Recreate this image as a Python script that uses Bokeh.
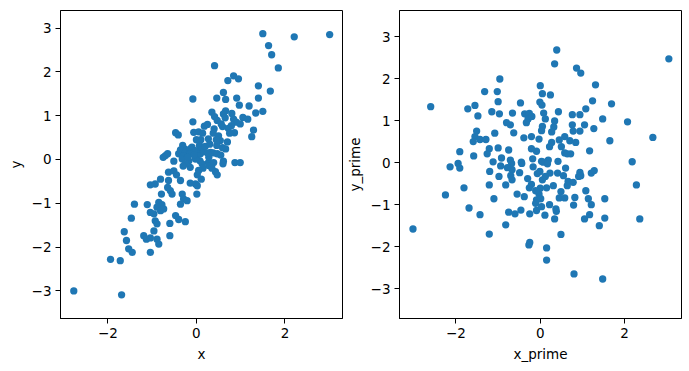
from bokeh.plotting import figure
from bokeh.layouts import row
from bokeh.models import FixedTicker, Range1d
from bokeh.embed import file_html
from bokeh.resources import INLINE

# ---- left panel data (x, y) ----
x = [1.50, 2.21, 3.01, 1.63, 1.70, 1.85, 0.41, 0.84, 0.71, 0.95,
     1.40, 1.67, 0.61, 0.66, 0.46, 0.91, 0.97, 1.40, 1.19, 0.66,
     0.35, 0.41, 1.50, 1.34, 0.61, 1.05, 1.16, 0.84, 0.90, 0.79,
     0.99, 0.18, 0.25, 0.59, 0.72, 1.29, 1.25, 0.38, 0.50, 0.86,
     0.27, 0.54, 0.07, 0.12, 0.46, 0.59, 0.38, 0.61, 0.87, 0.99,
     0.27, 0.08, -0.08, -0.08, -0.47, -0.41, -0.06, 0.05, 0.14, -0.70,
     -0.65, -0.51, -0.31, -0.27, -0.40, -0.10, 0.47, 0.56, 0.66, -0.36,
     -0.75, -0.25, -0.14, -0.02, 0.09, 0.16, 0.28, -0.29, -0.14, 0.02,
     0.32, 0.47, -0.32, -0.17, -0.02, 0.13, 0.28, 0.39, -0.14, -0.25,
     -0.63, -0.51, 0.43, 0.47, 0.02, 0.11, -0.36, -0.14, -0.02, -0.81,
     -1.04, -0.93, -0.63, 0.02, -0.65, -0.59, -0.55, -0.79, -0.32, -0.29,
     0.01, -1.40, -1.11, -0.85, -0.78, -0.89, -0.36, -0.21, -1.04, -0.96,
     -0.81, -0.74, -0.47, -0.40, -0.25, -1.47, -0.93, -0.89, -0.60, -0.96,
     -1.63, -1.19, -1.13, -1.04, -0.89, -0.85, -0.60, -1.58, -1.53, -1.45,
     -1.04, -1.94, -1.72, -2.77, -1.69,
     0.10, 0.20, 0.30, 0.00, -0.05, 0.15, 0.35, 0.55, 0.70, 0.40,
     0.65, 0.75, -0.20, -0.30, 0.05, 0.25, 0.45, 0.80, -0.45, 0.60]
y = [2.87, 2.80, 2.85, 2.60, 2.39, 2.09, 2.14, 1.91, 1.80, 1.84,
     1.68, 1.56, 1.53, 1.37, 1.40, 1.40, 1.24, 1.40, 1.22, 1.11,
     1.08, 0.98, 1.10, 1.06, 1.04, 0.96, 0.92, 0.92, 0.85, 0.77,
     0.81, 0.76, 0.80, 0.75, 0.71, 0.67, 0.52, 0.60, 0.54, 0.61,
     0.47, 0.43, 0.32, 0.22, 0.32, 0.27, 0.15, -0.04, -0.07, -0.07,
     -0.07, -0.03, 1.38, 0.86, 0.61, 0.56, 0.62, 0.63, 0.60, 0.09,
     0.13, -0.04, 0.32, 0.24, 0.13, 0.28, 0.89, 0.81, 0.24, 0.22,
     0.05, 0.16, 0.24, 0.20, 0.13, 0.18, 0.05, 0.09, 0.13, 0.09,
     0.16, 0.13, 0.01, -0.03, 0.01, -0.10, -0.14, -0.07, -0.18, -0.10,
     -0.29, -0.26, -0.28, -0.35, -0.35, -0.45, -0.48, -0.54, -0.56, -0.45,
     -0.58, -0.56, -0.48, -0.60, -0.64, -0.71, -0.79, -0.79, -0.79, -0.90,
     -0.79, -1.02, -1.03, -0.98, -1.03, -1.09, -1.02, -0.94, -1.21, -1.24,
     -1.17, -1.13, -1.28, -1.37, -1.42, -1.34, -1.40, -1.47, -1.46, -1.63,
     -1.65, -1.74, -1.82, -1.79, -1.82, -1.93, -1.74, -1.85, -2.04, -2.12,
     -2.12, -2.28, -2.31, -3.00, -3.09,
     0.45, 0.30, 0.35, 0.45, 0.10, -0.20, -0.20, 0.10, 0.40, 0.70,
     0.95, 0.60, 0.05, -0.15, -0.25, 0.15, 0.45, 1.05, -0.35, -0.10]

# ---- right panel data (x_prime, y_prime) ----
x_prime = [0.34, 0.39, 0.86, 0.96, -0.96, 1.31, 0.00, -1.32, -1.02, 0.05,
           0.24, -1.00, -0.47, -0.01, 0.04, 1.24, 1.69, -1.72, -1.55, 1.08,
           -1.15, -0.97, -0.66, -0.37, -0.26, 0.08, 0.43, 0.76, 0.94, -1.48,
           -0.29, 0.12, 1.48, 2.07, -0.80, -0.71, -0.33, 0.34, 0.76, 1.05,
           0.05, 0.32, 1.27, -1.51, -1.08, -0.63, 0.03, 0.27, 0.78, 0.94,
           -1.55, -1.59, -1.43, -1.29, -0.39, -0.21, -0.03, 0.27, 0.45, 0.58,
           0.70, 0.84, 0.50, 1.65, -1.91, -1.21, -1.26, -1.00, -0.75, -0.09,
           0.58, 1.17, -1.58, -0.92, -1.12, -0.71, -0.45, -0.18, 0.03, 0.19,
           0.42, -1.95, 2.18, -2.14, -1.91, -0.94, -0.68, -0.17, 0.60, -1.20,
           -0.67, -0.01, 0.23, 0.41, 0.94, 0.91, 1.21, 1.28, -0.98, -0.70,
           -0.67, 0.05, 0.66, 0.78, 0.64, -1.21, -0.82, -0.21, -0.26, 0.00,
           0.15, 2.28, -1.81, -2.25, -0.55, -0.38, -0.03, 0.49, 1.08, -1.10,
           -0.09, 0.01, 0.45, 0.58, 0.82, 1.14, 1.53, -0.11, 0.79, 1.21,
           -1.69, -1.43, -0.75, -0.60, -0.46, -0.25, -0.09, 0.11, 0.37, 0.38,
           0.34, 1.05, 1.17, 1.53, 2.36, -0.82, 1.40, -1.21, 0.49, -0.25,
           -0.27, 0.15, 0.15, -2.60, 3.05, 2.67, -3.02, 0.80, 1.48, -0.20,
           0.64, 0.72, 0.96, 0.07, -0.44, 0.17,
           -0.07, 0.12, -0.11, 0.03, 0.22, -0.30, 0.31, -0.49, 0.55, -0.21,
           0.22, -0.78]
y_prime = [2.35, 2.68, 2.25, 2.13, 1.99, 1.85, 1.83, 1.69, 1.69, 1.64,
           1.61, 1.45, 1.42, 1.44, 1.37, 1.47, 1.40, 1.28, 1.36, 1.28,
           1.21, 1.16, 1.18, 1.16, 1.17, 1.18, 1.21, 1.14, 1.14, 1.11,
           1.04, 1.04, 1.04, 0.97, 0.95, 0.90, 0.95, 0.99, 0.90, 0.90,
           0.86, 0.85, 0.81, 0.75, 0.70, 0.71, 0.76, 0.73, 0.75, 0.75,
           0.62, 0.50, 0.55, 0.55, 0.59, 0.62, 0.56, 0.48, 0.54, 0.62,
           0.52, 0.48, 0.38, 0.52, 0.26, 0.33, 0.21, 0.35, 0.30, 0.27,
           0.23, 0.28, 0.16, 0.11, 0.02, 0.06, 0.01, 0.09, 0.03, 0.06,
           0.03, -0.02, 0.02, -0.10, -0.13, -0.08, -0.02, -0.10, -0.13, -0.21,
           -0.17, -0.21, -0.25, -0.25, -0.23, -0.33, -0.25, -0.19, -0.33, -0.31,
           -0.41, -0.41, -0.45, -0.47, -0.55, -0.53, -0.53, -0.52, -0.60, -0.61,
           -0.60, -0.53, -0.60, -0.77, -0.75, -0.81, -0.75, -0.69, -0.67, -0.86,
           -0.89, -0.86, -0.84, -0.84, -0.83, -0.86, -0.86, -0.97, -1.01, -1.00,
           -1.08, -1.24, -1.18, -1.22, -1.13, -1.22, -1.14, -1.25, -1.10, -1.16,
           -1.34, -1.34, -1.24, -1.32, -1.34, -1.48, -1.50, -1.70, -1.71, -1.90,
           -1.96, -2.03, -2.32, 1.33, 2.47, 0.60, -1.58, -2.65, -2.77, 1.10,
           0.21, 0.21, -0.31, 0.01, -0.02, -0.03,
           -0.26, -0.33, -0.67, -1.05, -1.00, -0.38, -0.55, -0.24, -0.31, 0.33,
           0.38, -0.12]

x_ticks = [-2, 0, 2]
y_ticks = [-3, -2, -1, 0, 1, 2, 3]

COLOR = "#1f77b4"
FONT = "DejaVu Sans"
FS = "13.5px"


def minus(v):
    return ("\u2212" + str(abs(v))) if v < 0 else str(v)


def make(xs, ys, xr, yr, xlabel, ylabel, bl, br):
    p = figure(frame_width=282, frame_height=308,
               x_range=Range1d(*xr), y_range=Range1d(*yr),
               output_backend="svg", toolbar_location=None,
               min_border_left=bl, min_border_right=br,
               min_border_top=10, min_border_bottom=45,
               background_fill_color="white", border_fill_color="white")
    p.scatter(xs, ys, size=7.3, fill_color=COLOR, line_color=None)
    p.grid.visible = False
    p.outline_line_color = "black"
    p.outline_line_width = 1
    p.outline_line_alpha = 1
    for ax, ticks, lab in ((p.xaxis[0], x_ticks, xlabel), (p.yaxis[0], y_ticks, ylabel)):
        ax.ticker = FixedTicker(ticks=ticks)
        ax.major_label_overrides = {t: minus(t) for t in ticks}
        ax.axis_label = lab
        ax.axis_label_text_font = FONT
        ax.axis_label_text_font_size = FS
        ax.axis_label_text_font_style = "normal"
        ax.axis_label_text_color = "black"
        ax.axis_label_standoff = 5
        ax.major_label_text_font = FONT
        ax.major_label_text_font_size = FS
        ax.major_label_text_color = "black"
        ax.major_label_standoff = 4
        ax.major_tick_out = 5
        ax.major_tick_in = 0
        ax.major_tick_line_color = "black"
        ax.minor_tick_line_color = None
        ax.axis_line_color = "black"
    p.yaxis[0].major_label_orientation = "horizontal"
    return p


left = make(x, y, (-3.07, 3.30), (-3.63, 3.40), "x", "y", 60, 1)
right = make(x_prime, y_prime, (-3.34, 3.35), (-3.71, 3.62), "x_prime", "y_prime", 52, 2)

layout = row(left, right)
open("out.html", "w").write(file_html(layout, INLINE))
